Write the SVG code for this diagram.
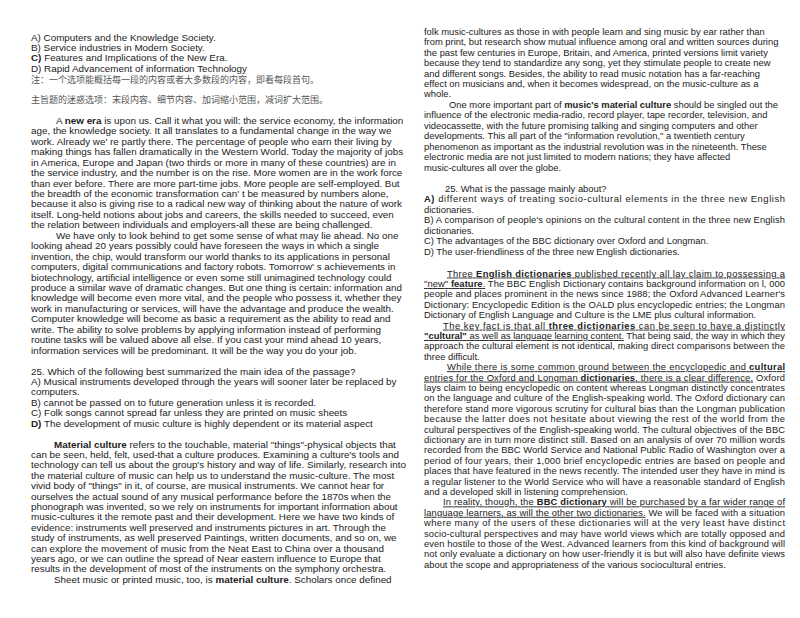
<svg xmlns="http://www.w3.org/2000/svg" width="800" height="618" viewBox="0 0 800 618">
<style>
text{font-family:"Liberation Sans",Arial,sans-serif;font-size:9.85px;fill:#222}
#right-column text{font-size:9.4px}
.cn{font-family:"Liberation Sans","Noto Sans CJK SC",sans-serif;fill:#555;font-size:9px}
.b{font-weight:bold}
.u{text-decoration:underline}
</style>
<rect width="800" height="618" fill="#fff"/>
<g id="left-column">
<text x="31" y="40.5">A) Computers and the Knowledge Society.</text>
<text x="31" y="50.5">B) Service industries in Modern Society.</text>
<text x="31" y="61"><tspan class="b">C)</tspan> Features and Implications of the New Era.</text>
<text x="31" y="71.5">D) Rapid Advancement of information Technology</text>
<text x="31" y="82.5" class="cn">注：一个选项能概括每一段的内容或者大多数段的内容，即看每段首句。</text>
<text x="31" y="103" class="cn">主旨题的迷惑选项：末段内容、细节内容、加词缩小范围，减词扩大范围。</text>
<text x="56" y="124">A <tspan class="b">new era</tspan> is upon us. Call it what you will: the service economy, the information</text>
<text x="31" y="134.4">age, the knowledge society. It all translates to a fundamental change in the way we</text>
<text x="31" y="144.9">work. Already we' re partly there. The percentage of people who earn their living by</text>
<text x="31" y="155.3">making things has fallen dramatically in the Western World. Today the majority of jobs</text>
<text x="31" y="165.7">in America, Europe and Japan (two thirds or more in many of these countries) are in</text>
<text x="31" y="176.2">the service industry, and the number is on the rise. More women are in the work force</text>
<text x="31" y="186.6">than ever before. There are more part-time jobs. More people are self-employed. But</text>
<text x="31" y="197">the breadth of the economic transformation can' t be measured by numbers alone,</text>
<text x="31" y="207.4">because it also is giving rise to a radical new way of thinking about the nature of work</text>
<text x="31" y="217.9">itself. Long-held notions about jobs and careers, the skills needed to succeed, even</text>
<text x="31" y="228.3">the relation between individuals and employers-all these are being challenged.</text>
<text x="56" y="238.7">We have only to look behind to get some sense of what may lie ahead. No one</text>
<text x="31" y="249.2">looking ahead 20 years possibly could have foreseen the ways in which a single</text>
<text x="31" y="259.6">invention, the chip, would transform our world thanks to its applications in personal</text>
<text x="31" y="270">computers, digital communications and factory robots. Tomorrow' s achievements in</text>
<text x="31" y="280.5">biotechnology, artificial intelligence or even some still unimagined technology could</text>
<text x="31" y="290.9">produce a similar wave of dramatic changes. But one thing is certain: information and</text>
<text x="31" y="301.3">knowledge will become even more vital, and the people who possess it, whether they</text>
<text x="31" y="311.7">work in manufacturing or services, will have the advantage and produce the wealth.</text>
<text x="31" y="322.2">Computer knowledge will become as basic a requirement as the ability to read and</text>
<text x="31" y="332.6">write. The ability to solve problems by applying information instead of performing</text>
<text x="31" y="343">routine tasks will be valued above all else. If you cast your mind ahead 10 years,</text>
<text x="31" y="353.5">information services will be predominant. It will be the way you do your job.</text>
<text x="31" y="374.5">25. Which of the following best summarized the main idea of the passage?</text>
<text x="31" y="384.9">A) Musical instruments developed through the years will sooner later be replaced by</text>
<text x="31" y="395.3">computers.</text>
<text x="31" y="405.7">B) cannot be passed on to future generation unless it is recorded.</text>
<text x="31" y="416.1">C) Folk songs cannot spread far unless they are printed on music sheets</text>
<text x="31" y="426.5"><tspan class="b">D)</tspan> The development of music culture is highly dependent or its material aspect</text>
<text x="54" y="447.5"><tspan class="b">Material culture</tspan> refers to the touchable, material "things"-physical objects that</text>
<text x="31" y="457.9">can be seen, held, felt, used-that a culture produces. Examining a culture's tools and</text>
<text x="31" y="468.3">technology can tell us about the group's history and way of life. Similarly, research into</text>
<text x="31" y="478.7">the material culture of music can help us to understand the music-culture. The most</text>
<text x="31" y="489.1">vivid body of "things" in it, of course, are musical instruments. We cannot hear for</text>
<text x="31" y="499.5">ourselves the actual sound of any musical performance before the 1870s when the</text>
<text x="31" y="509.9">phonograph was invented, so we rely on instruments for important information about</text>
<text x="31" y="520.3">music-cultures it the remote past and their development. Here we have two kinds of</text>
<text x="31" y="530.7">evidence: instruments well preserved and instruments pictures in art. Through the</text>
<text x="31" y="541.1">study of instruments, as well preserved Paintings, written documents, and so on, we</text>
<text x="31" y="551.5">can explore the movement of music from the Neat East to China over a thousand</text>
<text x="31" y="561.9">years ago, or we can outline the spread of Near eastern influence to Europe that</text>
<text x="31" y="572.3">results in the development of most of the instruments on the symphony orchestra.</text>
<text x="54" y="582.7">Sheet music or printed music, too, is <tspan class="b">material culture</tspan>. Scholars once defined</text>
</g>
<g id="right-column">
<text x="424" y="34.5">folk music-cultures as those in with people learn and sing music by ear rather than</text>
<text x="424" y="45">from print, but research show mutual influence among oral and written sources during</text>
<text x="424" y="55.5">the past few centuries in Europe, Britain, and America, printed versions limit variety</text>
<text x="424" y="66">because they tend to standardize any song, yet they stimulate people to create new</text>
<text x="424" y="76.5">and different songs. Besides, the ability to read music notation has a far-reaching</text>
<text x="424" y="87">effect on musicians and, when it becomes widespread, on the music-culture as a</text>
<text x="424" y="97.4">whole.</text>
<text x="449" y="107.9">One more important part of <tspan class="b">music's material culture</tspan> should be singled out the</text>
<text x="424" y="118.4">influence of the electronic media-radio, record player, tape recorder, television, and</text>
<text x="424" y="128.9">videocassette, with the future promising talking and singing computers and other</text>
<text x="424" y="139.4">developments. This all part of the "information revolution," a twentieth century</text>
<text x="424" y="149.9">phenomenon as important as the industrial revolution was in the nineteenth. These</text>
<text x="424" y="160.4">electronic media are not just limited to modern nations; they have affected</text>
<text x="424" y="170.9">music-cultures all over the globe.</text>
<text x="445" y="191.9">25. What is the passage mainly about?</text>
<text x="424" y="202.3" textLength="361" lengthAdjust="spacing"><tspan class="b">A)</tspan> different ways of treating socio-cultural elements in the three new English</text>
<text x="424" y="212.8">dictionaries.</text>
<text x="424" y="223.3" textLength="361" lengthAdjust="spacing">B) A comparison of people's opinions on the cultural content in the three new English</text>
<text x="424" y="233.8">dictionaries.</text>
<text x="424" y="244.3">C) The advantages of the BBC dictionary over Oxford and Longman.</text>
<text x="424" y="254.8">D) The user-friendliness of the three new English dictionaries.</text>
<text x="447" y="276.5" textLength="338" lengthAdjust="spacing" class="u">Three <tspan class="b">English dictionaries</tspan> published recently all lay claim to possessing a</text>
<text x="424" y="287" textLength="361" lengthAdjust="spacing"><tspan class="u">"new" <tspan class="b">feature</tspan>.</tspan> The BBC English Dictionary contains background information on l, 000</text>
<text x="424" y="297.4" textLength="361" lengthAdjust="spacing">people and places prominent in the news since 1988; the Oxford Advanced Learner's</text>
<text x="424" y="307.8" textLength="361" lengthAdjust="spacing">Dictionary: Encyclopedic Edition is the OALD plus encyclopedic entries; the Longman</text>
<text x="424" y="318.2">Dictionary of English Language and Culture is the LME plus cultural information.</text>
<text x="443" y="328.6" textLength="342" lengthAdjust="spacing" class="u">The key fact is that all <tspan class="b">three dictionaries</tspan> can be seen to have a distinctly</text>
<text x="424" y="339" textLength="361" lengthAdjust="spacing"><tspan class="u"><tspan class="b">"cultural"</tspan> as well as language learning content.</tspan> That being said, the way in which they</text>
<text x="424" y="349.4" textLength="361" lengthAdjust="spacing">approach the cultural element is not identical, making direct comparisons between the</text>
<text x="424" y="359.8">three difficult.</text>
<text x="447" y="370.2" textLength="338" lengthAdjust="spacing" class="u">While there is some common ground between the encyclopedic and <tspan class="b">cultural</tspan></text>
<text x="424" y="380.6" textLength="361" lengthAdjust="spacing"><tspan class="u">entries for the Oxford and Longman <tspan class="b">dictionaries</tspan>, there is a clear difference.</tspan> Oxford</text>
<text x="424" y="391" textLength="361" lengthAdjust="spacing">lays claim to being encyclopedic on content whereas Longman distinctly concentrates</text>
<text x="424" y="401.4" textLength="361" lengthAdjust="spacing">on the language and culture of the English-speaking world. The Oxford dictionary can</text>
<text x="424" y="411.8" textLength="361" lengthAdjust="spacing">therefore stand more vigorous scrutiny for cultural bias than the Longman publication</text>
<text x="424" y="422.2" textLength="361" lengthAdjust="spacing">because the latter does not hesitate about viewing the rest of the world from the</text>
<text x="424" y="432.6" textLength="361" lengthAdjust="spacing">cultural perspectives of the English-speaking world. The cultural objectives of the BBC</text>
<text x="424" y="443" textLength="361" lengthAdjust="spacing">dictionary are in turn more distinct still. Based on an analysis of over 70 million words</text>
<text x="424" y="453.4" textLength="361" lengthAdjust="spacing">recorded from the BBC World Service and National Public Radio of Washington over a</text>
<text x="424" y="463.8" textLength="361" lengthAdjust="spacing">period of four years, their 1,000 brief encyclopedic entries are based on people and</text>
<text x="424" y="474.2" textLength="361" lengthAdjust="spacing">places that have featured in the news recently. The intended user they have in mind is</text>
<text x="424" y="484.6" textLength="361" lengthAdjust="spacing">a regular listener to the World Service who will have a reasonable standard of English</text>
<text x="424" y="495">and a developed skill in listening comprehension.</text>
<text x="443" y="505.4" textLength="342" lengthAdjust="spacing" class="u">In reality, though, the <tspan class="b">BBC dictionary</tspan> will be purchased by a far wider range of</text>
<text x="424" y="515.8" textLength="361" lengthAdjust="spacing"><tspan class="u">language learners, as will the other two dictionaries.</tspan> We will be faced with a situation</text>
<text x="424" y="526.2" textLength="361" lengthAdjust="spacing">where many of the users of these dictionaries will at the very least have distinct</text>
<text x="424" y="536.6" textLength="361" lengthAdjust="spacing">socio-cultural perspectives and may have world views which are totally opposed and</text>
<text x="424" y="547" textLength="361" lengthAdjust="spacing">even hostile to those of the West. Advanced learners from this kind of background will</text>
<text x="424" y="557.4" textLength="361" lengthAdjust="spacing">not only evaluate a dictionary on how user-friendly it is but will also have definite views</text>
<text x="424" y="567.8">about the scope and appropriateness of the various sociocultural entries.</text>
</g>
</svg>
